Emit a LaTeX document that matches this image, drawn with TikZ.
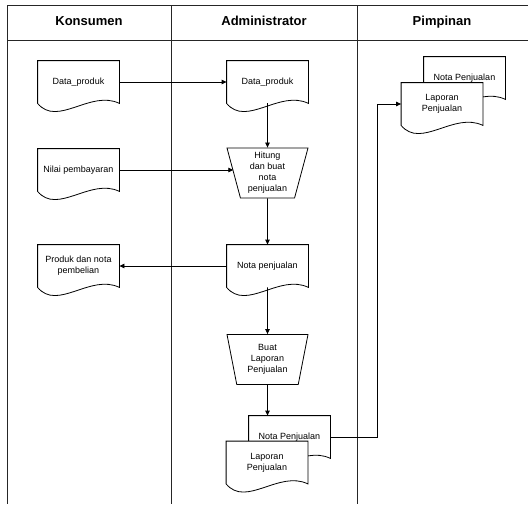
\documentclass[tikz,border=0pt]{standalone}
\usepackage{fontspec}
\setmainfont{Liberation Sans}
\usetikzlibrary{arrows.meta,shapes.geometric}
\tikzset{
	doc/.style={rectangle,minimum width=81pt,minimum height=42pt,inner sep=1pt,align=center,font=\fontsize{9}{11}\selectfont,
		append after command={\pgfextra{\pgfinterruptpath
			\draw[line width=0.8pt,fill=white] (\tikzlastnode.south west) .. controls +(20pt,-24pt) and +(-29pt,14pt) .. (\tikzlastnode.south east)
				-- (\tikzlastnode.north east) -- (\tikzlastnode.north west) -- cycle;
			\endpgfinterruptpath}}},
	proses/.style={trapezium,shape border rotate=180,trapezium angle=72,trapezium stretches body,draw,fill=white,line width=0.8pt,
		minimum width=81pt,minimum height=50pt,inner sep=0pt,align=center,font=\fontsize{9}{11}\selectfont},
	judul/.style={font=\fontsize{13}{15}\selectfont\bfseries,text height=9.5pt,text depth=2.5pt},
	lajur/.style={line width=0.8pt,black!85}
}
\begin{document}
\begin{tikzpicture}[x=1pt,y=-1pt,>={Triangle[length=5pt,width=4.5pt]},line width=0.8pt]
	\useasboundingbox (0,0) rectangle (528,504);
	% lajur
	\draw[lajur] (528,5) -- (7,5) -- (7,504); \draw[lajur] (7,40) -- (528,40);
	\draw[lajur] (171,5) -- (171,504); \draw[lajur] (357,5) -- (357,504);
	\node[judul] (1) at (89,22) {Konsumen}; \node[judul] (2) at (264,22) {Administrator}; \node[judul] (3) at (442,22) {Pimpinan};
	% konsumen
	\node[doc] (4) at (78.5,82) {Data\_produk};
	\node[doc] (5) at (78.5,170) {Nilai pembayaran};
	\node[doc] (6) at (78.5,266) {Produk dan nota\\pembelian};
	% administrator
	\node[doc] (7) at (267.5,82) {Data\_produk};
	\node[proses] (8) at (267.5,173) {Hitung\\dan buat\\nota\\penjualan};
	\node[doc] (9) at (267.5,266) {Nota penjualan};
	\node[proses] (10) at (267.5,359.5) {Buat\\Laporan\\Penjualan};
	\node[doc] (11) at (289.5,437) {Nota Penjualan};
	\node[doc] (12) at (267,462.5) {Laporan\\Penjualan};
	% pimpinan
	\node[doc] (13) at (464.5,78) {Nota Penjualan};
	\node[doc] (14) at (442,104) {Laporan\\Penjualan};
	\coordinate (b) at (377,0);
	\draw[->] (4) -- (7);
	\draw[->] (5.east) -- (5.east -| 8.west);
	\draw[->] (7) -- (8);
	\draw[->] (8) -- (9);
	\draw[->] (9) -- (6);
	\draw[->] (9) -- (10);
	\draw[->] (10.south) -- (10.south |- 11.north);
	\draw[->] (11.east) -| (b |- 14.west) -- (14.west);
\end{tikzpicture}
\end{document}
